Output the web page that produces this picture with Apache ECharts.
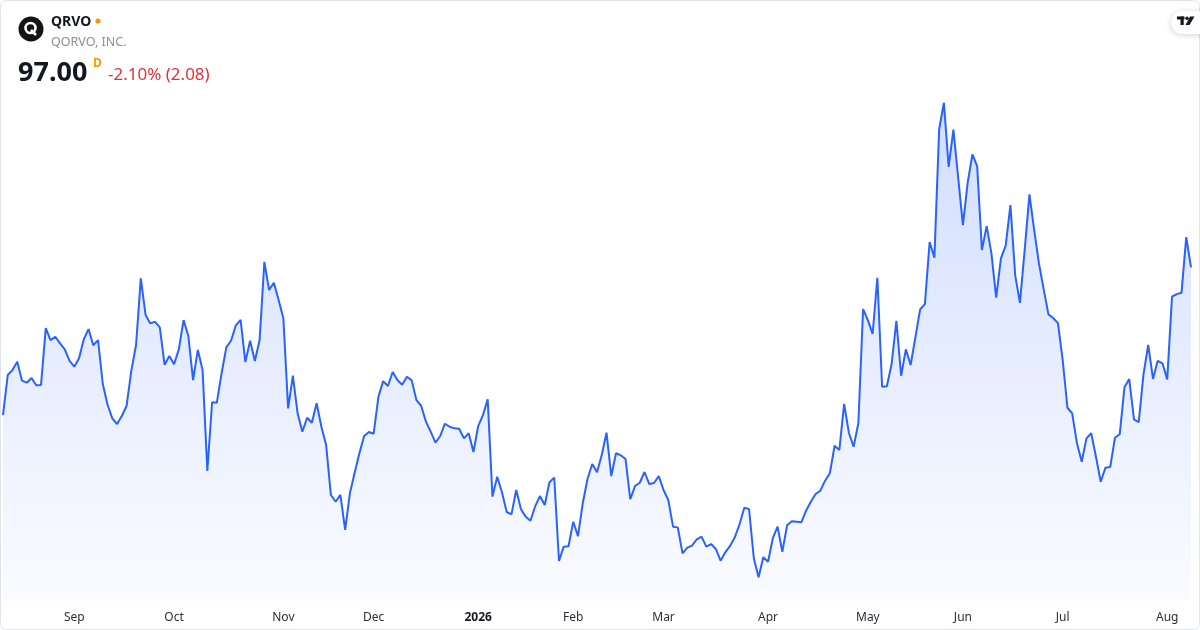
<!DOCTYPE html>
<html>
<head>
<meta charset="utf-8">
<style>
html,body{margin:0;padding:0;background:#ffffff;}
#chart{width:1200px;height:630px;}
</style>
<script src="https://cdn.jsdelivr.net/npm/echarts@6/dist/echarts.min.js"></script>
</head>
<body>
<div id="chart"></div>
<script>
// Daily closes, QRVO (first trading day 2025-08-11, last 2026-08-10)
const closes = [
86.81,89.57,89.91,90.49,89.18,89.04,89.36,88.86,88.88,92.81,
91.98,92.21,91.75,91.34,90.55,90.14,90.72,92.03,92.74,91.62,
91.98,88.95,87.52,86.58,86.19,86.74,87.43,89.86,91.64,96.24,
93.71,93.13,93.24,92.86,90.28,90.88,90.31,91.34,93.36,92.26,
89.22,91.30,89.91,82.95,87.69,87.66,89.69,91.48,91.95,93.00,
93.38,90.46,91.93,90.53,91.98,97.38,95.43,95.93,94.74,93.48,
87.27,89.52,86.91,85.66,86.62,86.28,87.62,86.00,84.74,81.29,
80.83,81.30,78.88,81.41,82.83,84.17,85.36,85.64,85.52,88.07,
89.15,88.81,89.78,89.22,88.90,89.45,89.20,87.84,87.45,86.35,
85.66,84.90,85.36,86.21,86.00,85.89,85.86,85.20,85.55,84.26,
86.05,86.81,87.89,81.18,82.55,81.48,80.12,79.96,81.64,80.31,
79.80,79.52,80.53,81.22,80.60,82.17,82.49,76.74,77.73,77.75,
79.45,78.46,80.72,82.40,83.43,82.86,84.05,85.59,82.60,84.17,
84.03,83.78,81.00,81.91,82.14,82.88,82.05,82.12,82.60,81.64,
80.95,79.11,79.06,77.27,77.66,77.80,78.24,78.42,77.73,77.91,
77.57,76.76,77.34,77.78,78.38,79.27,80.42,80.31,76.93,75.62,
77.00,76.69,78.31,79.11,77.38,79.20,79.48,79.45,79.41,80.21,
80.83,81.36,81.59,82.28,82.79,84.69,84.40,87.57,85.59,84.62,
86.24,94.12,93.36,92.40,96.28,88.76,88.80,90.33,93.31,89.52,
91.34,90.26,92.17,94.10,94.46,98.74,97.66,106.51,108.35,103.93,
106.50,103.20,99.91,102.83,104.79,103.98,98.19,99.84,97.96,94.90,
97.62,98.49,101.29,96.46,94.55,98.20,102.03,99.57,97.27,95.48,
93.75,93.50,93.15,90.60,87.31,86.93,84.86,83.59,85.20,85.55,
83.93,82.21,83.18,83.22,85.24,85.48,88.72,89.29,86.51,86.31,
89.62,91.64,89.30,90.55,90.38,89.27,94.97,95.15,95.24,99.08,
97.00
];

// Trading calendar (NYSE holidays in range)
const startDate = '2025-08-11';
const endDate = '2026-08-10';
const holidays = ['2025-09-01','2025-11-27','2025-12-25','2026-01-01','2026-01-19',
                  '2026-02-16','2026-04-03','2026-05-25','2026-06-19','2026-07-03'];
const monthNames = ['Jan','Feb','Mar','Apr','May','Jun','Jul','Aug','Sep','Oct','Nov','Dec'];

const dates = [];
(function(){
  let d = new Date(startDate + 'T00:00:00Z');
  const end = new Date(endDate + 'T00:00:00Z');
  while (d <= end) {
    const s = d.toISOString().slice(0,10);
    const wd = d.getUTCDay();
    if (wd !== 0 && wd !== 6 && holidays.indexOf(s) < 0) dates.push(s);
    d = new Date(d.getTime() + 86400000);
  }
})();

const chart = echarts.init(document.getElementById('chart'), null, {renderer:'canvas'});
const FONT = '"Noto Sans", "Open Sans", sans-serif';

const option = {
  animation: false,
  backgroundColor: '#ffffff',
  grid: { left: 3, right: 9, top: 60, bottom: 30 },
  xAxis: {
    type: 'category',
    data: dates,
    boundaryGap: false,
    axisLine: { show: false },
    axisTick: { show: false },
    splitLine: { show: false },
    axisLabel: {
      margin: 12,
      color: '#2a2e39',
      fontSize: 12,
      fontFamily: FONT,
      interval: function (index, value) {
        return index > 0 && value.slice(5,7) !== dates[index-1].slice(5,7);
      },
      formatter: function (value) {
        const m = parseInt(value.slice(5,7), 10) - 1;
        if (m === 0) return '{y|' + value.slice(0,4) + '}';
        return monthNames[m];
      },
      rich: { y: { fontWeight: 'bold', fontSize: 12, color: '#131722', fontFamily: FONT } }
    }
  },
  yAxis: {
    type: 'value',
    min: 74.05,
    max: 111.30,
    show: false,
    splitLine: { show: false }
  },
  series: [{
    type: 'line',
    data: closes,
    symbol: 'none',
    smooth: false,
    lineStyle: { color: '#2962ff', width: 2 },
    itemStyle: { color: '#2962ff' },
    areaStyle: {
      color: new echarts.graphic.LinearGradient(0, 0, 0, 1, [
        { offset: 0, color: 'rgba(41,98,255,0.30)' },
        { offset: 1, color: 'rgba(41,98,255,0.03)' }
      ])
    }
  }],
  graphic: [
    // outer frame
    { type: 'rect', shape: { x: 0.5, y: 0.5, width: 1199, height: 629, r: 6 },
      style: { fill: 'none', stroke: '#e0e3eb', lineWidth: 1 }, silent: true, z: 100 },
    // logo
    { type: 'circle', shape: { cx: 31, cy: 29, r: 12.5 }, style: { fill: '#131313' }, z: 100 },
    { type: 'circle', shape: { cx: 30.5, cy: 28, r: 5 }, style: { fill: 'none', stroke: '#ffffff', lineWidth: 2.6 }, z: 101 },
    { type: 'polyline', shape: { points: [[31, 30], [36, 35]] }, style: { stroke: '#ffffff', lineWidth: 2.6 }, z: 101 },
    // ticker
    { type: 'text', left: 51, top: 15, style: { text: 'QRVO', fill: '#131722', font: 'bold 14px ' + FONT }, z: 100 },
    { type: 'circle', shape: { cx: 98, cy: 21, r: 2.6 }, style: { fill: '#ff9800' }, z: 100 },
    { type: 'text', left: 51, top: 36, style: { text: 'QORVO, INC.', fill: '#8c8f98', font: '12.5px ' + FONT }, z: 100 },
    // price
    { type: 'text', left: 18, top: 60, style: { text: '97.00', fill: '#131722', font: 'bold 27px ' + FONT }, z: 100 },
    { type: 'text', left: 93, top: 58, style: { text: 'D', fill: '#ff9800', font: 'bold 12px ' + FONT }, z: 100 },
    { type: 'text', left: 108, top: 67, style: { text: '-2.10% (2.08)', fill: '#e0313e', font: '17px ' + FONT }, z: 100 },
    // TV badge
    { type: 'rect', shape: { x: 1171, y: 11, width: 40, height: 23, r: 11.5 },
      style: { fill: '#ffffff', shadowBlur: 6, shadowColor: 'rgba(0,0,0,0.18)', shadowOffsetY: 1 }, z: 100 },
    { type: 'rect', shape: { x: 1177, y: 16.5, width: 7.5, height: 3 }, style: { fill: '#131722' }, z: 101 },
    { type: 'rect', shape: { x: 1180.5, y: 16.5, width: 3.2, height: 8.5 }, style: { fill: '#131722' }, z: 101 },
    { type: 'circle', shape: { cx: 1187, cy: 18.3, r: 1.7 }, style: { fill: '#131722' }, z: 101 },
    { type: 'polygon', shape: { points: [[1190, 16.5], [1194.5, 16.5], [1189.5, 25], [1185.5, 25]] }, style: { fill: '#131722' }, z: 101 }
  ]
};
chart.setOption(option);
</script>
</body>
</html>
